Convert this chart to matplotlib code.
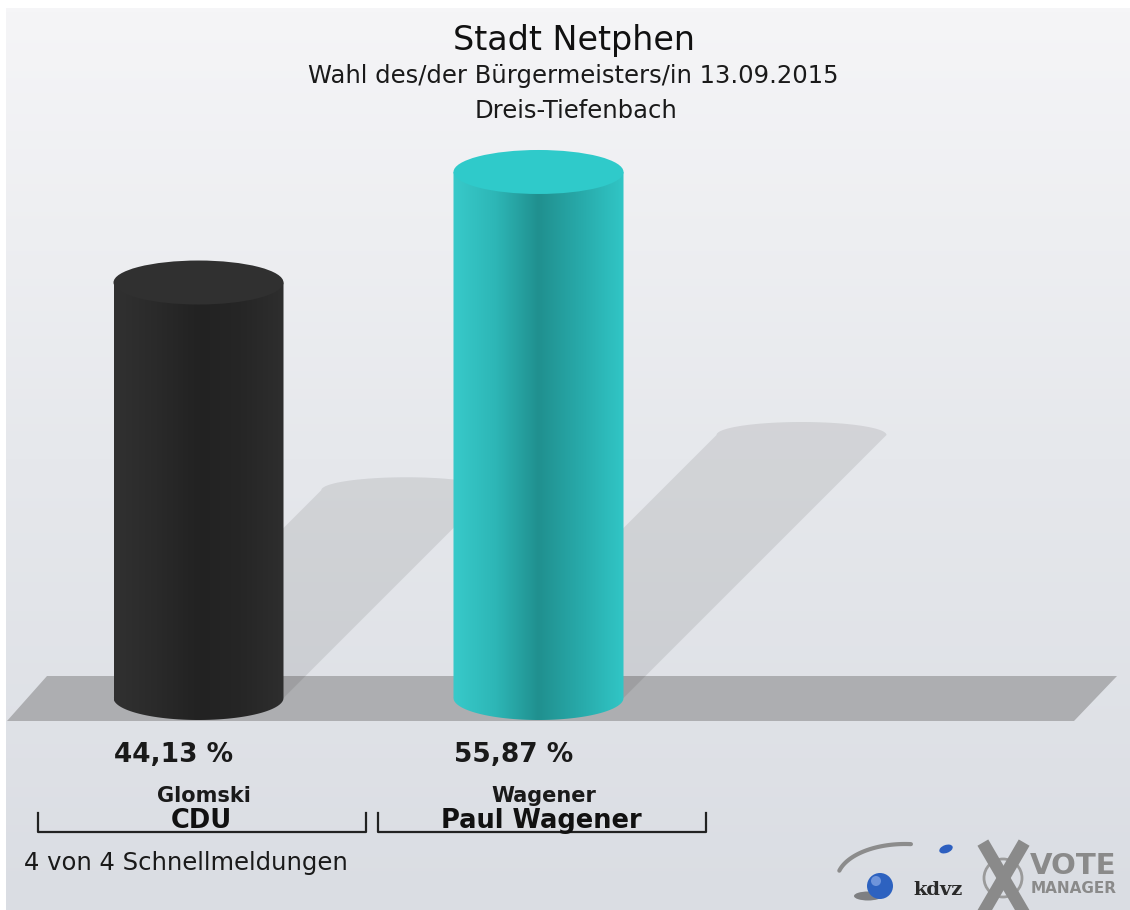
import numpy as np
import matplotlib.pyplot as plt
from matplotlib.colors import LinearSegmentedColormap
from matplotlib.patches import Ellipse, Polygon, PathPatch, Circle
from matplotlib.path import Path

# --- data ---
title = "Stadt Netphen"
subtitle = "Wahl des/der Bürgermeisters/in 13.09.2015"
district = "Dreis-Tiefenbach"
candidates = ["Glomski", "Wagener"]
parties = ["CDU", "Paul Wagener"]
shares = [44.13, 55.87]
share_labels = ["44,13 %", "55,87 %"]
footnote = "4 von 4 Schnellmeldungen"

body_colors = [
    ["#313131", "#2a2a2a", "#222222", "#262626", "#2e2e2e"],
    ["#38caca", "#2db6b6", "#20908f", "#28aaaa", "#31c6c6"],
]
top_colors = ["#303030", "#2fcaca"]

# --- layout (pixels of the 1130x910 canvas) ---
W, H = 1130, 910
BASE_PX = 698          # bar foot (ellipse centre)
PX_PER_PCT = 9.415
CAT0_PX = 198.5
PX_PER_CAT = 340
BAR_W = 0.5
CAP_PX = 22

fig = plt.figure(figsize=(W / 100, H / 100), dpi=100, facecolor="white")

# background axes in pixel coordinates
bg = fig.add_axes([0, 0, 1, 1])
grad = np.linspace(0, 1, 256)[:, None]
bg_cmap = LinearSegmentedColormap.from_list("bg", ["#f5f5f7", "#e6e8ec", "#dadde3"])
bg.imshow(grad, cmap=bg_cmap, extent=(6, W, H, 8), aspect="auto")
bg.add_patch(Polygon([(7, 721), (47, 676), (1117, 676), (1074, 721)],
                     closed=True, fc="#adaeb1", ec="none"))
bg.set_xlim(0, W)
bg.set_ylim(H, 0)
bg.axis("off")

# bar axes: x in categories, y in percent
ax = fig.add_axes([0, 0, 1, 1])
ax.patch.set_alpha(0)
ax.set_xlim(-CAT0_PX / PX_PER_CAT, (W - CAT0_PX) / PX_PER_CAT)
ax.set_ylim(-(H - BASE_PX) / PX_PER_PCT, BASE_PX / PX_PER_PCT)
ax.axis("off")

cap = CAP_PX / PX_PER_PCT
t_bot = np.linspace(np.pi, 2 * np.pi, 60)
t_top = np.linspace(0, np.pi, 60)

for i, v in enumerate(shares):
    x0, x1 = i - BAR_W / 2, i + BAR_W / 2

    # slanted shadow behind the bar
    sh = 0.5 * v
    dx = sh * PX_PER_PCT / PX_PER_CAT
    cap_sh = 13 / PX_PER_PCT
    pts = [(x0, 0), (x1, 0)]
    pts += list(zip(i + dx + BAR_W / 2 * np.cos(t_top), sh + cap_sh * np.sin(t_top)))
    ax.add_patch(Polygon(pts, closed=True, fc="black", alpha=0.085, ec="none", zorder=1))

    # cylinder body with horizontal shading
    verts = [(x0, v), (x0, 0)]
    verts += list(zip(i + BAR_W / 2 * np.cos(t_bot), cap * np.sin(t_bot)))
    verts += [(x1, v), (x0, v)]
    codes = [Path.MOVETO] + [Path.LINETO] * (len(verts) - 2) + [Path.CLOSEPOLY]
    body = PathPatch(Path(verts, codes), fc="none", ec="none", zorder=3)
    ax.add_patch(body)
    cmap = LinearSegmentedColormap.from_list("b%d" % i, body_colors[i])
    im = ax.imshow(np.linspace(0, 1, 256)[None, :], cmap=cmap,
                   extent=(x0, x1, -cap, v), aspect="auto",
                   interpolation="bilinear", zorder=3)
    im.set_clip_path(body)

    ax.add_patch(Ellipse((i, v), BAR_W, 2 * cap, fc=top_colors[i], ec="none", zorder=4))

ax.set_xlim(-CAT0_PX / PX_PER_CAT, (W - CAT0_PX) / PX_PER_CAT)
ax.set_ylim(-(H - BASE_PX) / PX_PER_PCT, BASE_PX / PX_PER_PCT)

# titles
bg.text(574, 50, title, ha="center", va="baseline", fontsize=24, color="#111111")
bg.text(573, 83, subtitle, ha="center", va="baseline", fontsize=17.5, color="#1a1a1a")
bg.text(576, 118, district, ha="center", va="baseline", fontsize=17.5, color="#1a1a1a")

# labels under the bars
for i in range(len(shares)):
    cx = CAT0_PX + i * PX_PER_CAT
    bg.text(cx - 25, 762, share_labels[i], ha="center", va="baseline",
            fontsize=19, fontweight="bold", color="#1a1a1a")
    bg.text(cx + 5, 802, candidates[i], ha="center", va="baseline",
            fontsize=15, fontweight="bold", color="#1a1a1a")
    bg.text(cx + 3, 828, parties[i], ha="center", va="baseline",
            fontsize=18.5, fontweight="bold", color="#111111")
    bl, br = cx + 3 - 164, cx + 3 + 164
    bg.plot([bl, bl, br, br], [813, 832, 832, 813], color="#222222", lw=1.6)

bg.text(24, 870, footnote, ha="left", va="baseline", fontsize=17.5, color="#1a1a1a")

# logos bottom right
tt = np.radians(np.linspace(85, 165, 40))
bg.plot(905 + 68 * np.cos(tt), 880 - 36 * np.sin(tt), color="#8c8c8c", lw=3,
        solid_capstyle="round")
bg.add_patch(Ellipse((868, 896), 28, 9, fc="#333333", alpha=0.55, ec="none"))
bg.add_patch(Circle((880, 886), 13, fc="#2d62c0", ec="none"))
bg.add_patch(Circle((876, 881), 5, fc="#9ab6ee", alpha=0.6, ec="none"))
bg.add_patch(Ellipse((946, 849), 14, 8, angle=-20, fc="#2d5fc0", ec="none"))
bg.text(938, 895, "kdvz", ha="center", va="baseline", family="DejaVu Serif",
        fontweight="bold", fontsize=14, color="#2a2a2a")
bg.add_patch(Circle((1003, 878), 19, fc="none", ec="#9a9a9a", lw=2))
bg.plot([986, 1021], [848, 908], color="#8a8a8a", lw=9)
bg.plot([1021, 986], [848, 908], color="#8a8a8a", lw=9)
bg.text(1030, 874, "VOTE", ha="left", va="baseline", fontsize=21,
        fontweight="bold", color="#8a8a8a")
bg.text(1031, 893, "MANAGER", ha="left", va="baseline", fontsize=11,
        fontweight="bold", color="#8a8a8a")
bg.set_xlim(0, W)
bg.set_ylim(H, 0)

fig.savefig("out.png", dpi=100, facecolor="white")
